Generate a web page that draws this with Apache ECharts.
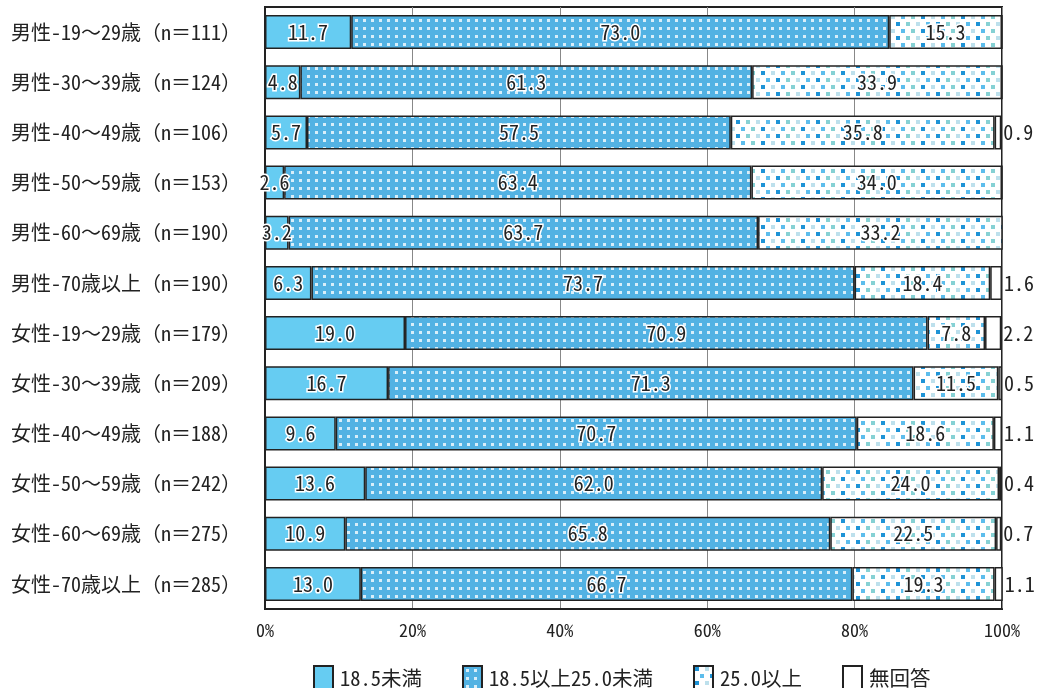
<!DOCTYPE html>
<html>
<head>
<meta charset="utf-8">
<script src="https://cdn.jsdelivr.net/npm/echarts@6/dist/echarts.min.js"></script>
<style>
html, body { margin: 0; padding: 0; background: #fff; }
#chart { width: 1038px; height: 688px; }
</style>
</head>
<body>
<div id="chart"></div>
<script>
var categories = [
	'男性-19～29歳（n＝111）',
	'男性-30～39歳（n＝124）',
	'男性-40～49歳（n＝106）',
	'男性-50～59歳（n＝153）',
	'男性-60～69歳（n＝190）',
	'男性-70歳以上（n＝190）',
	'女性-19～29歳（n＝179）',
	'女性-30～39歳（n＝209）',
	'女性-40～49歳（n＝188）',
	'女性-50～59歳（n＝242）',
	'女性-60～69歳（n＝275）',
	'女性-70歳以上（n＝285）'
];
var seriesNames = ['18.5未満', '18.5以上25.0未満', '25.0以上', '無回答'];
var under185 = [11.7, 4.8, 5.7, 2.6, 3.2, 6.3, 19.0, 16.7, 9.6, 13.6, 10.9, 13.0];
var normal = [73.0, 61.3, 57.5, 63.4, 63.7, 73.7, 70.9, 71.3, 70.7, 62.0, 65.8, 66.7];
var over25 = [15.3, 33.9, 35.8, 34.0, 33.2, 18.4, 7.8, 11.5, 18.6, 24.0, 22.5, 19.3];
var noAnswer = [0, 0, 0.9, 0, 0, 1.6, 2.2, 0.5, 1.1, 0.4, 0.7, 1.1];
var xTicks = ['0%', '20%', '40%', '60%', '80%', '100%'];

var FONT = '"Noto Sans Mono CJK JP", "Noto Sans CJK JP", monospace';

// dotted fill for 18.5以上25.0未満
function dotPattern(){
	var c = document.createElement('canvas');
	c.width = 8; c.height = 8;
	var ctx = c.getContext('2d');
	ctx.fillStyle = '#52b2e3';
	ctx.fillRect(0, 0, 8, 8);
	ctx.fillStyle = '#d8eef9';
	ctx.fillRect(3, 3, 3, 3);
	return c;
}

// scattered squares for 25.0以上
function squarePattern(){
	var c = document.createElement('canvas');
	c.width = 40; c.height = 14;
	var ctx = c.getContext('2d');
	ctx.fillStyle = '#ffffff';
	ctx.fillRect(0, 0, 40, 14);
	var sq = [
		[1, 1, '#1e93d6'], [11, 1, '#bde0ec'], [21, 1, '#5dbdec'], [31, 1, '#86d1d4'],
		[6, 8, '#5dbdec'], [16, 8, '#1e93d6'], [26, 8, '#86d1d4'], [36, 8, '#bde0ec']
	];
	for (var i = 0; i < sq.length; i++) {
		ctx.fillStyle = sq[i][2];
		ctx.fillRect(sq[i][0], sq[i][1], 4, 4);
	}
	return c;
}

function fmt(p){
	return p.value ? p.value.toFixed(1) : '';
}

var labelInside = {
	show: true,
	position: 'inside',
	formatter: fmt,
	color: '#222',
	fontFamily: FONT,
	fontSize: 20,
	textBorderColor: '#fff',
	textBorderWidth: 3
};

var chart = echarts.init(document.getElementById('chart'));
var option = {
	animation: false,
	backgroundColor: '#fff',
	grid: {
		left: 265,
		right: 36,
		top: 7,
		bottom: 79,
		show: true,
		borderColor: '#222',
		borderWidth: 2
	},
	legend: {
		data: seriesNames,
		icon: 'rect',
		left: 313,
		top: 665,
		padding: 0,
		itemWidth: 19,
		itemHeight: 24,
		itemGap: 40,
		textStyle: {fontFamily: FONT, fontSize: 20.5, color: '#222', padding: [0, 0, 0, 2]}
	},
	xAxis: {
		type: 'value',
		min: 0,
		max: 100,
		interval: 20,
		axisLine: {show: true, lineStyle: {color: '#222', width: 2}},
		axisTick: {show: false},
		splitLine: {show: true, lineStyle: {color: '#888', width: 1}},
		axisLabel: {
			margin: 12,
			fontFamily: FONT,
			fontSize: 18,
			color: '#222',
			formatter: function(v){ return xTicks[v / 20]; }
		}
	},
	yAxis: {
		type: 'category',
		inverse: true,
		data: categories,
		axisLine: {show: true, lineStyle: {color: '#222', width: 2}},
		axisTick: {show: false},
		axisLabel: {margin: 24, fontFamily: FONT, fontSize: 20, color: '#222'}
	},
	series: [
		{
			name: seriesNames[0],
			type: 'bar',
			stack: 'all',
			barWidth: 34,
			itemStyle: {color: '#66ccf2', borderColor: '#222', borderWidth: 1.5},
			label: labelInside,
			data: under185
		},
		{
			name: seriesNames[1],
			type: 'bar',
			stack: 'all',
			barWidth: 34,
			itemStyle: {color: {image: dotPattern(), repeat: 'repeat'}, borderColor: '#222', borderWidth: 1.5},
			label: labelInside,
			data: normal
		},
		{
			name: seriesNames[2],
			type: 'bar',
			stack: 'all',
			barWidth: 34,
			itemStyle: {color: {image: squarePattern(), repeat: 'repeat'}, borderColor: '#222', borderWidth: 1.5},
			label: labelInside,
			data: over25
		},
		{
			name: seriesNames[3],
			type: 'bar',
			stack: 'all',
			barWidth: 34,
			itemStyle: {color: '#fff', borderColor: '#222', borderWidth: 1.5},
			label: {
				show: true,
				position: 'right',
				distance: 2,
				formatter: fmt,
				color: '#222',
				fontFamily: FONT,
				fontSize: 20
			},
			data: noAnswer
		}
	]
};
chart.setOption(option);
</script>
</body>
</html>
